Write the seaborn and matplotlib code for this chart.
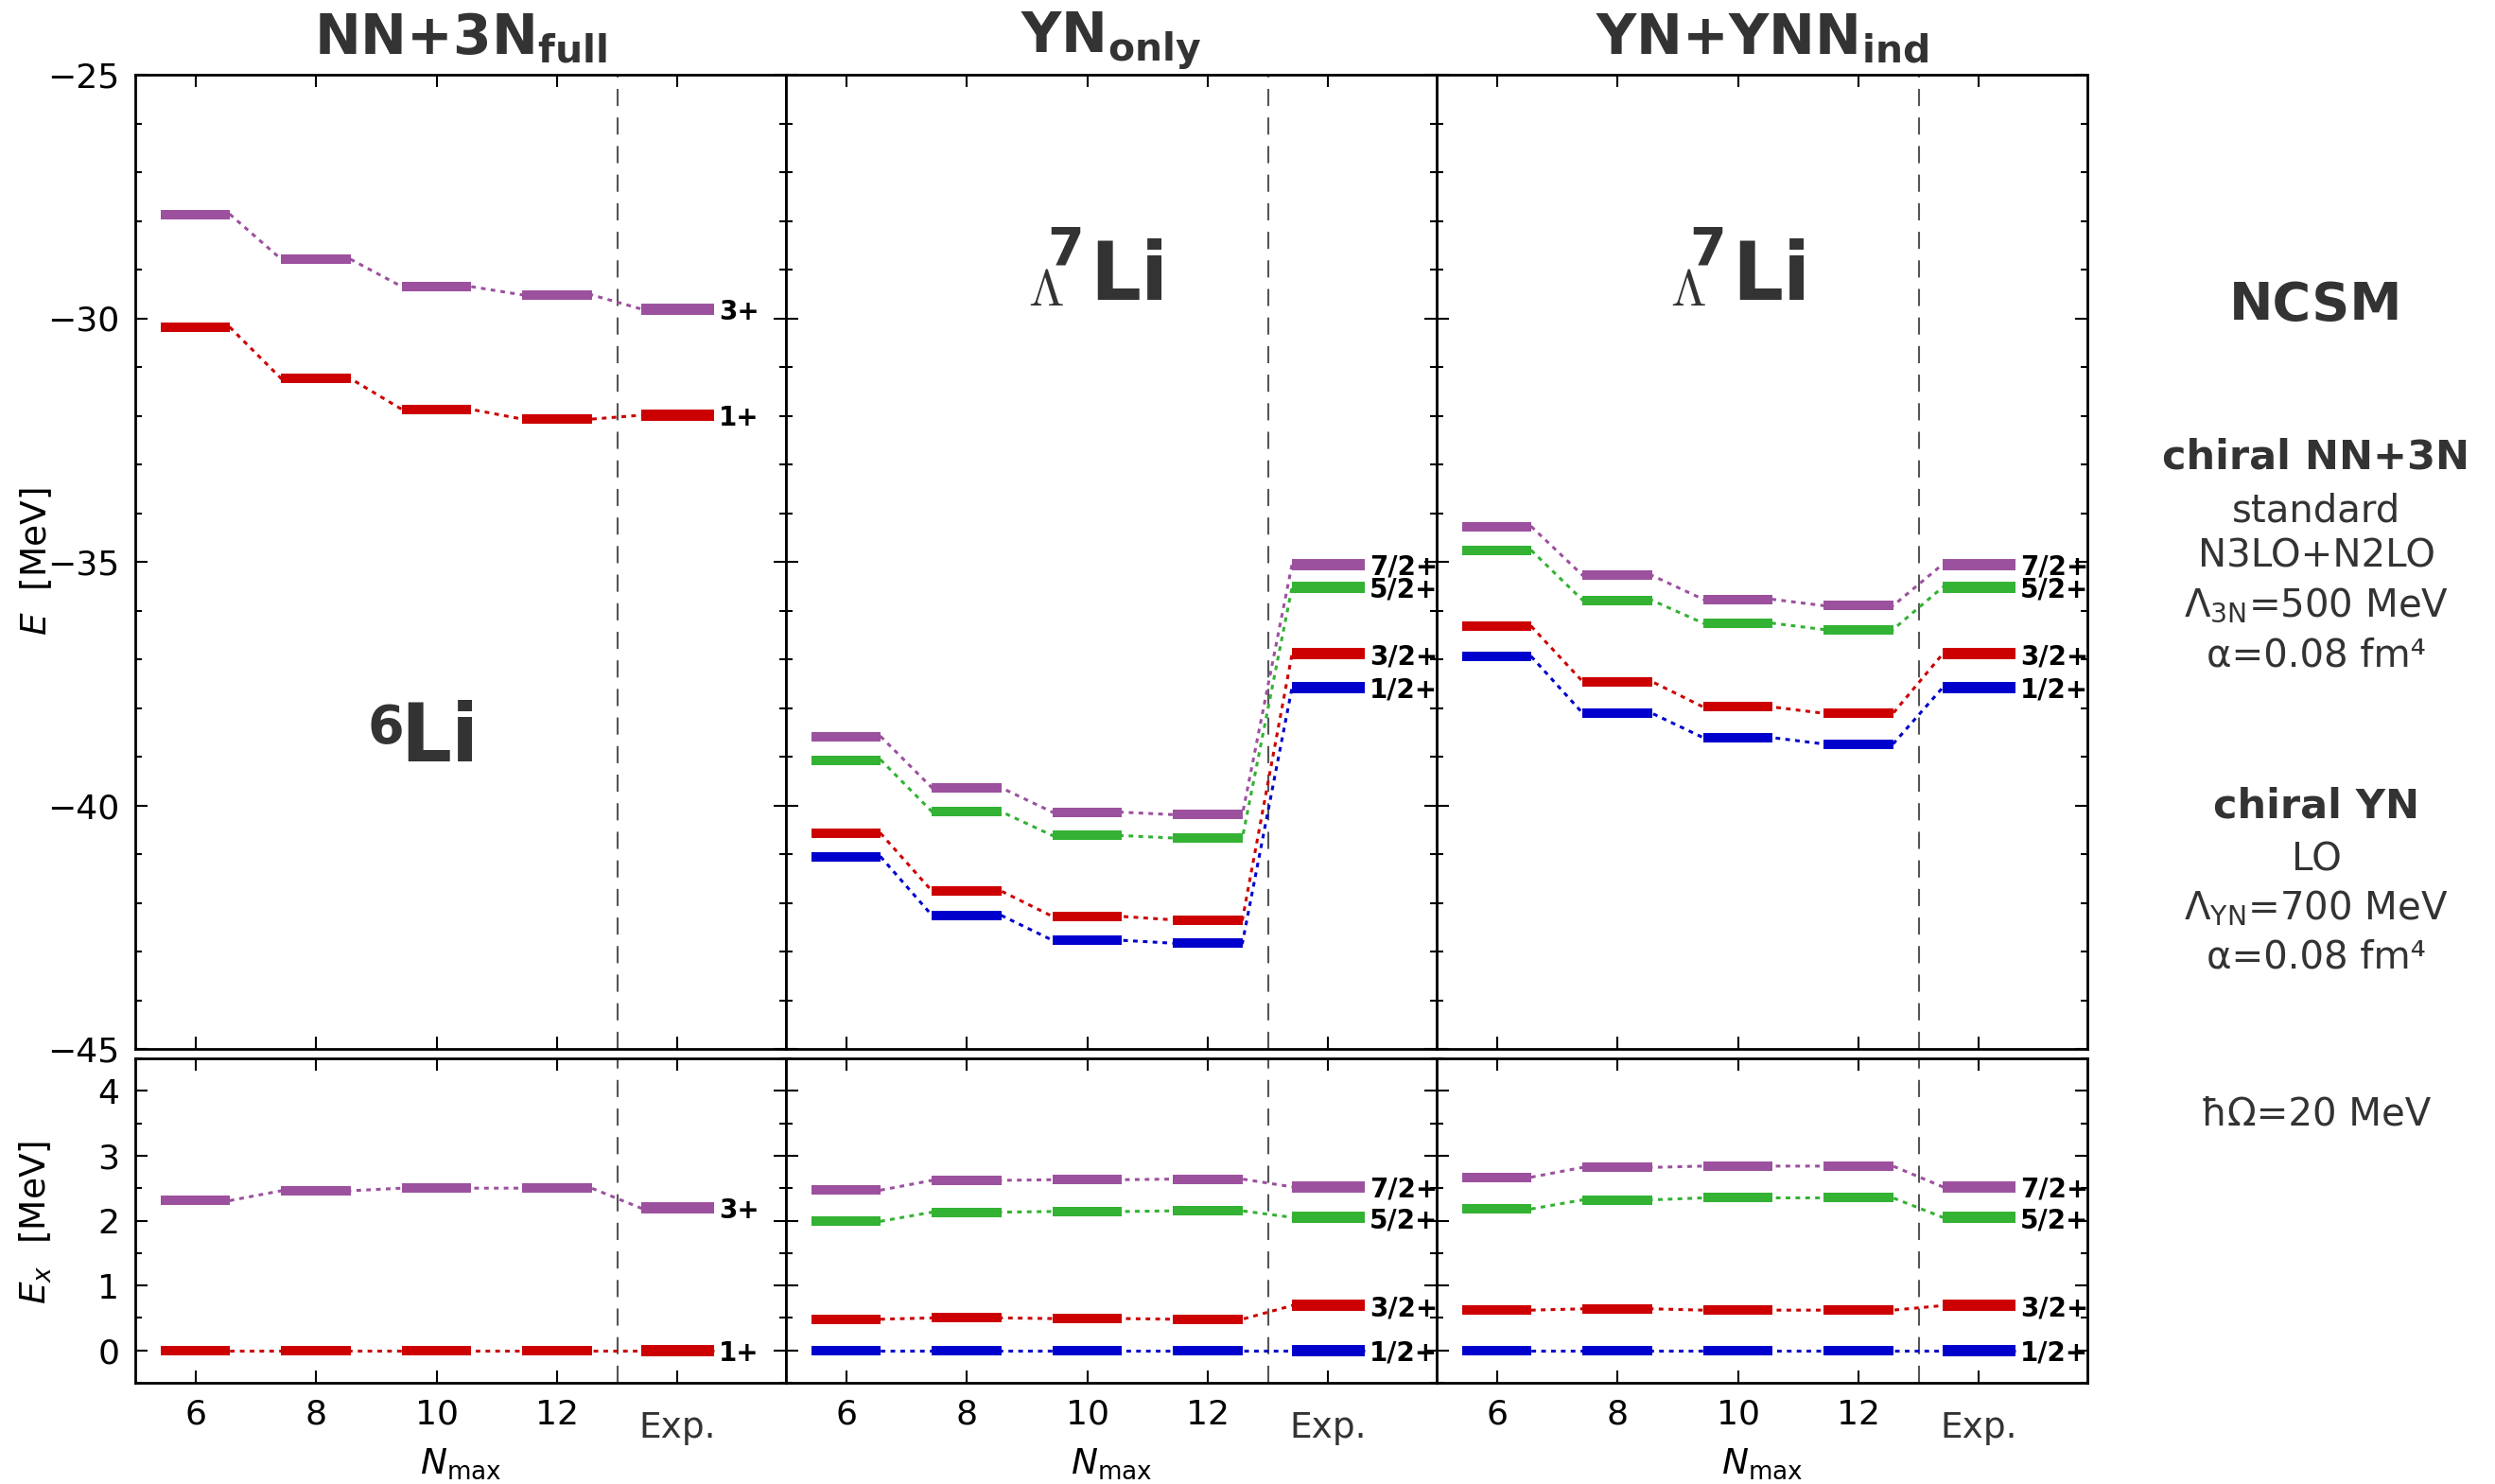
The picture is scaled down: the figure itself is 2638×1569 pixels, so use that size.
import numpy as np
import pandas as pd
import matplotlib
matplotlib.use("Agg")
import matplotlib.pyplot as plt
from matplotlib.ticker import MultipleLocator, FixedLocator, FixedFormatter
import seaborn as sns

# ---------------- data ----------------
nmax = [6, 8, 10, 12]
exp_pos = 14
xtick_labels = ["6", "8", "10", "12", ""]

# 6Li, chiral NN+3N (full)
li6_labels = ["3+", "1+"]
li6_E_calc = [[-27.87, -28.79, -29.35, -29.52],
              [-30.19, -31.24, -31.87, -32.07]]
li6_E_exp = [-29.81, -31.99]
li6_Ex_calc = [[2.31, 2.46, 2.50, 2.50],
               [0.00, 0.00, 0.00, 0.00]]
li6_Ex_exp = [2.19, 0.00]

# 7Li-Lambda states
hyp_labels = ["7/2+", "5/2+", "3/2+", "1/2+"]
hyp_E_exp = [-35.05, -35.52, -36.89, -37.58]
hyp_Ex_exp = [2.52, 2.05, 0.69, 0.00]

# YN only
yn_E_calc = [[-38.59, -39.64, -40.14, -40.19],
             [-39.07, -40.13, -40.62, -40.67],
             [-40.58, -41.76, -42.28, -42.35],
             [-41.06, -42.26, -42.77, -42.83]]
yn_Ex_calc = [[2.47, 2.62, 2.63, 2.64],
              [1.99, 2.13, 2.14, 2.15],
              [0.48, 0.50, 0.49, 0.48],
              [0.00, 0.00, 0.00, 0.00]]

# YN + induced YNN
ynn_E_calc = [[-34.28, -35.28, -35.77, -35.90],
              [-34.77, -35.79, -36.26, -36.39],
              [-36.33, -37.46, -37.98, -38.11],
              [-36.95, -38.11, -38.61, -38.74]]
ynn_Ex_calc = [[2.67, 2.82, 2.84, 2.84],
               [2.18, 2.32, 2.35, 2.35],
               [0.62, 0.64, 0.62, 0.62],
               [0.00, 0.00, 0.00, 0.00]]

PURPLE, GREEN, RED, BLUE = "#9c519e", "#33b233", "#cc0000", "#0000cc"
li6_colors = [PURPLE, RED]
hyp_colors = [PURPLE, GREEN, RED, BLUE]

titles = [r"$\mathbf{NN{+}3N}_{\mathbf{full}}$",
          r"$\mathbf{YN}_{\mathbf{only}}$",
          r"$\mathbf{YN{+}YNN}_{\mathbf{ind}}$"]

# ---------------- style ----------------
sns.set_theme(style="ticks")
plt.rcParams["font.family"] = ["DejaVu Sans"]
plt.rcParams["mathtext.fontset"] = "dejavusans"
plt.rcParams["axes.linewidth"] = 2.0
plt.rcParams["axes.edgecolor"] = "black"

TXT = "#333333"
HW, HWE = 0.575, 0.60  # half widths of calculated / experimental level bars

W, H = 2638, 1569
fig = plt.figure(figsize=(W / 100, H / 100), dpi=100)

lefts = [143, 831, 1519]
pw = 688
top_rect = (79, 1109)
bot_rect = (1119, 1462)


def add_ax(xpx, ypx):
    y0, y1 = ypx
    return fig.add_axes([xpx / W, 1 - y1 / H, pw / W, (y1 - y0) / H])


def style_axis(ax, top):
    ax.set_xlim(5, 15.8)
    ax.xaxis.set_major_locator(FixedLocator(nmax + [exp_pos]))
    if top:
        ax.set_ylim(-45, -25)
        ax.yaxis.set_major_locator(MultipleLocator(5))
        ax.yaxis.set_minor_locator(MultipleLocator(1))
    else:
        ax.set_ylim(-0.5, 4.5)
        ax.yaxis.set_major_locator(MultipleLocator(1))
        ax.yaxis.set_minor_locator(MultipleLocator(0.5))
    ax.tick_params(which="both", direction="in", top=True, right=True,
                   width=1.5, colors="black", labelsize=26, pad=12)
    ax.tick_params(which="major", length=9.5)
    ax.tick_params(which="minor", length=5)
    ax.tick_params(axis="x", which="minor", top=False, bottom=False)
    ax.axvline(13, color="#555555", lw=1.5, dashes=(8.7, 5.8), zorder=1)
    ax.set_xlabel("")
    ax.set_ylabel("")
    for s in ax.spines.values():
        s.set_linewidth(2.0)
        s.set_color("black")


def draw_levels(ax, calc, exp, colors, labels):
    for vals, ev, col, lab in zip(calc, exp, colors, labels):
        xs, ys = [], []
        for x, v in zip(nmax, vals):
            xs += [x - HW, x + HW]
            ys += [v, v]
        xs += [exp_pos - HWE, exp_pos + HWE]
        ys += [ev, ev]
        df = pd.DataFrame({"x": xs, "E": ys})
        sns.lineplot(data=df, x="x", y="E", ax=ax, sort=False, estimator=None,
                     color=col, lw=2.2, linestyle=(0, (1.6, 1.8)), zorder=2)
        ax.hlines(vals, [x - HW for x in nmax], [x + HW for x in nmax],
                  colors=col, lw=7.2, zorder=3, capstyle="butt")
        ax.hlines([ev], [exp_pos - HWE], [exp_pos + HWE],
                  colors=col, lw=8.6, zorder=3, capstyle="butt")
        ax.annotate(lab, xy=(exp_pos + HWE, ev), xytext=(4, 0),
                    textcoords="offset points", ha="left",
                    va="center_baseline", fontsize=20, fontweight="bold",
                    color="black", annotation_clip=False, zorder=5)


panels = [
    (li6_E_calc, li6_E_exp, li6_Ex_calc, li6_Ex_exp, li6_colors, li6_labels),
    (yn_E_calc, hyp_E_exp, yn_Ex_calc, hyp_Ex_exp, hyp_colors, hyp_labels),
    (ynn_E_calc, hyp_E_exp, ynn_Ex_calc, hyp_Ex_exp, hyp_colors, hyp_labels),
]

for i, (Ec, Ee, Xc, Xe, cols, labs) in enumerate(panels):
    axt = add_ax(lefts[i], top_rect)
    axb = add_ax(lefts[i], bot_rect)
    draw_levels(axt, Ec, Ee, cols, labs)
    draw_levels(axb, Xc, Xe, cols, labs)
    style_axis(axt, True)
    style_axis(axb, False)

    axt.set_title(titles[i], fontsize=42, color=TXT, pad=16)
    axt.tick_params(axis="x", labelbottom=False)
    axb.xaxis.set_major_formatter(FixedFormatter(xtick_labels))
    if i > 0:
        axt.tick_params(axis="y", labelleft=False)
        axb.tick_params(axis="y", labelleft=False)

    axb.annotate("Exp.", xy=(exp_pos, 0), xycoords=("data", "axes fraction"),
                 xytext=(0, -21.5), textcoords="offset points", ha="center",
                 va="top", fontsize=27, color=TXT, annotation_clip=False)
    axb.annotate(r"$N_{\mathrm{max}}$", xy=(0.5, 0), xycoords="axes fraction",
                 xytext=(0, -69), textcoords="offset points", ha="center",
                 va="baseline", fontsize=27, color="black",
                 annotation_clip=False)

    # nucleus labels
    if i == 0:
        xy = (9.40, -39.10)
        axt.text(*xy, "Li", fontsize=61, fontweight="bold", color=TXT,
                 ha="left", va="baseline")
        axt.annotate("6", xy=xy, xytext=(3, 44.5), textcoords="offset points",
                     ha="right", va="top", fontsize=40, fontweight="bold",
                     color=TXT)
    else:
        xy = (10.04 if i == 1 else 9.90, -29.62)
        axt.text(*xy, "Li", fontsize=61, fontweight="bold", color=TXT,
                 ha="left", va="baseline")
        axt.annotate("7", xy=xy, xytext=(-4.5, 57.5),
                     textcoords="offset points", ha="right", va="top",
                     fontsize=40, fontweight="bold", color=TXT)
        axt.annotate(r"$\Lambda$", xy=xy, xytext=(-19.5, -12),
                     textcoords="offset points", ha="right", va="bottom",
                     fontsize=39, color=TXT, math_fontfamily="cm")

# axis labels
fig.text(38 / W, 1 - 594 / H, r"$E$  [MeV]", rotation=90, ha="center",
         va="center", fontsize=27, color="black")
fig.text(38 / W, 1 - 1292 / H, r"$E_x$  [MeV]", rotation=90, ha="center",
         va="center", fontsize=27, color="black")

# method description on the right
cx = 2449 / W
side = [
    ("NCSM", 323, 40, "bold"),
    ("chiral NN+3N", 483, 31, "bold"),
    ("standard", 540, 29, "normal"),
    ("N3LO+N2LO", 588, 29, "normal"),
    (r"$\Lambda_{\mathrm{3N}}$=500 MeV", 640, 29, "normal"),
    ("α=0.08 fm⁴", 693, 29, "normal"),
    ("chiral YN", 853, 31, "bold"),
    ("LO", 910, 29, "normal"),
    (r"$\Lambda_{\mathrm{YN}}$=700 MeV", 961, 29, "normal"),
    ("α=0.08 fm⁴", 1012, 29, "normal"),
    ("ħΩ=20 MeV", 1178, 29, "normal"),
]
for txt, ypx, fs, fw in side:
    fig.text(cx, 1 - ypx / H, txt, ha="center", va="center", fontsize=fs,
             fontweight=fw, color=TXT)

fig.savefig("out.png", dpi=100)
